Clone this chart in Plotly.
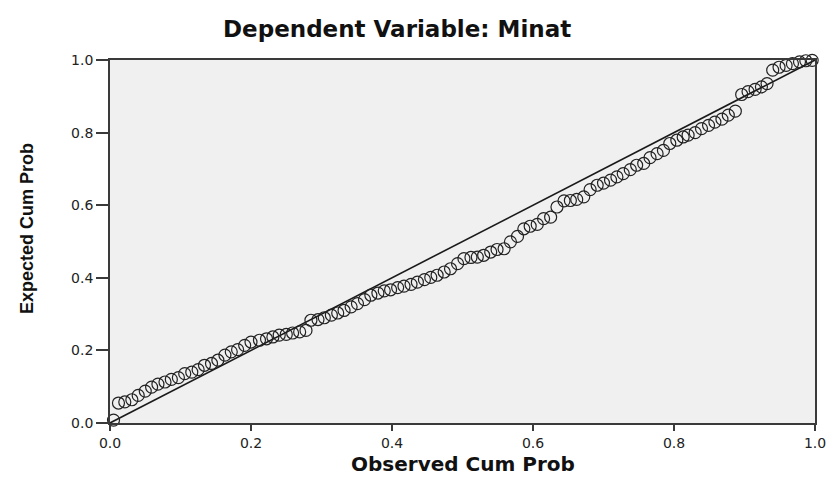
import plotly.graph_objects as go

# Observed cumulative probability (x) and expected cumulative probability (y)
observed_cum_prob = [
    0.005, 0.012, 0.021, 0.031, 0.040, 0.050, 0.059, 0.068, 0.078, 0.087, 0.097,
    0.106, 0.116, 0.125, 0.134, 0.144, 0.153, 0.163, 0.172, 0.181, 0.191, 0.200,
    0.212, 0.222, 0.231, 0.240, 0.250, 0.259, 0.269, 0.278, 0.285, 0.295, 0.304,
    0.314, 0.323, 0.332, 0.342, 0.351, 0.361, 0.370, 0.380, 0.389, 0.398, 0.408,
    0.417, 0.427, 0.436, 0.446, 0.455, 0.464, 0.474, 0.483, 0.493, 0.502, 0.512,
    0.521, 0.530, 0.540, 0.549, 0.559, 0.568, 0.578, 0.587, 0.596, 0.606, 0.615,
    0.625, 0.634, 0.644, 0.653, 0.662, 0.672, 0.681, 0.691, 0.700, 0.710, 0.719,
    0.728, 0.738, 0.747, 0.757, 0.766, 0.776, 0.785, 0.794, 0.804, 0.813,
    0.820, 0.830, 0.839, 0.849, 0.858, 0.868, 0.877, 0.887,
    0.896, 0.905, 0.915, 0.924, 0.932,
    0.940, 0.949, 0.959, 0.968, 0.978, 0.987, 0.996,
]
expected_cum_prob = [
    0.008, 0.055, 0.058, 0.064, 0.076, 0.088, 0.099, 0.107, 0.113, 0.120, 0.125,
    0.136, 0.140, 0.147, 0.159, 0.164, 0.173, 0.187, 0.196, 0.202, 0.214, 0.223,
    0.228, 0.232, 0.237, 0.242, 0.244, 0.248, 0.251, 0.255, 0.283, 0.285, 0.290,
    0.297, 0.303, 0.310, 0.320, 0.329, 0.340, 0.352, 0.358, 0.364, 0.367, 0.373,
    0.377, 0.382, 0.388, 0.395, 0.401, 0.407, 0.416, 0.425, 0.439, 0.453, 0.456,
    0.457, 0.462, 0.471, 0.478, 0.480, 0.499, 0.514, 0.535, 0.542, 0.547, 0.563,
    0.567, 0.595, 0.612, 0.613, 0.616, 0.623, 0.643, 0.655, 0.661, 0.669, 0.678,
    0.687, 0.698, 0.710, 0.715, 0.731, 0.742, 0.751, 0.770, 0.779, 0.788,
    0.793, 0.800, 0.811, 0.820, 0.829, 0.837, 0.848, 0.859,
    0.905, 0.913, 0.919, 0.926, 0.935,
    0.972, 0.980, 0.985, 0.990, 0.995, 0.998, 0.999,
]

# Reference diagonal
ref_x = [0.0, 1.0]
ref_y = [0.0, 1.0]

tick_vals = [0.0, 0.2, 0.4, 0.6, 0.8, 1.0]
tick_text = ["0.0", "0.2", "0.4", "0.6", "0.8", "1.0"]

title_text = "Dependent Variable: Minat"
x_title = "Observed Cum Prob"
y_title = "Expected Cum Prob"

fig = go.Figure()
fig.add_trace(go.Scatter(
    x=ref_x, y=ref_y, mode="lines",
    line=dict(color="#1a1a1a", width=1.6),
    showlegend=False, hoverinfo="skip",
))
fig.add_trace(go.Scatter(
    x=observed_cum_prob, y=expected_cum_prob, mode="markers",
    marker=dict(symbol="circle-open", size=12, color="#222222",
                line=dict(width=1.2, color="#222222")),
    showlegend=False, cliponaxis=False,
))

tick_font = dict(family="DejaVu Sans, Arial, sans-serif", size=14, color="#222222")

fig.update_layout(
    width=830, height=469,
    margin=dict(l=102, r=20, t=52, b=54),
    paper_bgcolor="white",
    plot_bgcolor="#f0f0f0",
    xaxis=dict(
        range=[0, 1], tickvals=tick_vals, ticktext=tick_text,
        showgrid=False, zeroline=False,
        showline=True, linecolor="#3a3a3a", linewidth=1.8, mirror=True,
        ticks="outside", ticklen=6, tickwidth=1.6, tickcolor="#3a3a3a",
        tickfont=tick_font, fixedrange=True,
    ),
    yaxis=dict(
        range=[0, 1], tickvals=tick_vals, ticktext=tick_text,
        showgrid=False, zeroline=False,
        showline=True, linecolor="#3a3a3a", linewidth=1.8, mirror=True,
        ticks="outside", ticklen=12, tickwidth=1.6, tickcolor="#3a3a3a",
        tickfont=tick_font, fixedrange=True,
    ),
    annotations=[
        dict(text="<b>" + title_text + "</b>", xref="paper", yref="paper",
             x=0.407, y=1.085, xanchor="center", yanchor="middle",
             showarrow=False,
             font=dict(family="DejaVu Sans, Arial, sans-serif", size=23, color="#111111")),
        dict(text="<b>" + x_title + "</b>", xref="paper", yref="paper",
             x=0.501, y=-0.112, xanchor="center", yanchor="middle",
             showarrow=False,
             font=dict(family="DejaVu Sans, Arial, sans-serif", size=20, color="#111111")),
        dict(text="<b>" + y_title + "</b>", xref="paper", yref="paper",
             x=-0.117, y=0.536, xanchor="center", yanchor="middle",
             showarrow=False, textangle=-90,
             font=dict(family="Liberation Sans, Arial, sans-serif",
                       size=18, color="#111111")),
    ],
)

fig.write_html("out.html")
